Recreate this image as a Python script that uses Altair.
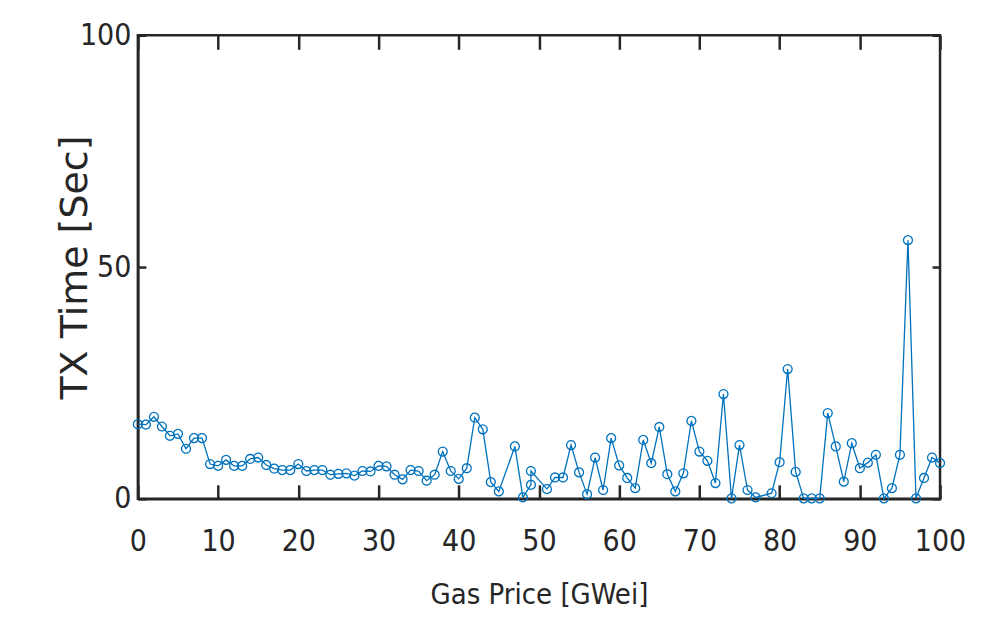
import altair as alt
import pandas as pd

gas_price = [0, 1, 2, 3, 4, 5, 6, 7, 8, 9, 10, 11, 12, 13, 14, 15, 16, 17, 18, 19,
             20, 21, 22, 23, 24, 25, 26, 27, 28, 29, 30, 31, 32, 33, 34, 35, 36, 37, 38, 39,
             40, 41, 42, 43, 44, 45, 47, 48, 49, 49, 51, 52, 53, 54, 55, 56, 57, 58, 59,
             60, 61, 62, 63, 64, 65, 66, 67, 68, 69, 70, 71, 72, 73, 74, 75, 76, 77, 79,
             80, 81, 82, 83, 84, 85, 86, 87, 88, 89, 90, 91, 92, 93, 94, 95, 96, 97, 98, 99, 100]
tx_time = [16.1, 16.0, 17.7, 15.6, 13.6, 14.0, 10.8, 13.1, 13.1, 7.5, 7.1, 8.4, 7.1, 7.1, 8.6, 8.9, 7.3, 6.5, 6.2, 6.2,
           7.5, 6.0, 6.2, 6.2, 5.2, 5.4, 5.5, 5.0, 6.0, 5.9, 7.1, 7.0, 5.2, 4.2, 6.2, 6.0, 3.9, 5.2, 10.2, 6.0,
           4.3, 6.6, 17.5, 15.0, 3.6, 1.6, 11.3, 0.3, 3.0, 6.0, 2.1, 4.6, 4.6, 11.6, 5.7, 1.0, 8.9, 1.9, 13.1,
           7.2, 4.5, 2.3, 12.7, 7.7, 15.5, 5.3, 1.6, 5.5, 16.8, 10.2, 8.2, 3.4, 22.6, 0.1, 11.6, 1.9, 0.3, 1.2,
           7.9, 28.0, 5.8, 0.1, 0.1, 0.1, 18.5, 11.3, 3.7, 12.0, 6.6, 7.8, 9.5, 0.1, 2.3, 9.5, 55.8, 0.1, 4.5, 8.9, 7.7]
x_ticks = [0, 10, 20, 30, 40, 50, 60, 70, 80, 90, 100]
y_ticks = [0, 50, 100]

df = pd.DataFrame({"gas": gas_price, "t": tx_time, "order": list(range(len(gas_price)))})

AX = "#262626"
BLUE = "#0072BD"
NARROW = "Liberation Sans Narrow, DejaVu Sans Condensed, Liberation Sans, sans-serif"

xs = alt.Scale(domain=[0, 100], nice=False, zero=False)
ys = alt.Scale(domain=[0, 100], nice=False, zero=False)

base = alt.Chart(df)

main_line = base.mark_line(color=BLUE, strokeWidth=1.3).encode(
    x=alt.X("gas:Q", scale=xs, axis=alt.Axis(
        orient="bottom", values=x_ticks, tickSize=0, grid=False,
        domain=True, domainColor=AX, domainWidth=2.5,
        labelFont=NARROW, labelFontSize=30, labelColor=AX, labelPadding=28,
        labelFlush=False, labelOverlap=False,
        title="Gas Price [GWei]", titleFont=NARROW, titleFontSize=29,
        titleFontWeight="normal", titleColor=AX, titleY=96, titleBaseline="middle")),
    y=alt.Y("t:Q", scale=ys, axis=alt.Axis(
        orient="left", values=y_ticks, tickSize=0, grid=False,
        domain=True, domainColor=AX, domainWidth=2.5,
        labelFont=NARROW, labelFontSize=30, labelColor=AX, labelPadding=7,
        labelFlush=False, labelOverlap=False,
        title="TX Time [Sec]", titleFont="DejaVu Sans", titleFontSize=38,
        titleFontWeight="normal", titleColor=AX, titleX=-62, titleY=232,
        titleAngle=270, titleBaseline="middle", titleAlign="center")),
    order="order:Q",
)

pts = base.mark_point(shape="circle", filled=False, color=BLUE, strokeWidth=1.3, size=80, opacity=1).encode(
    x=alt.X("gas:Q", scale=xs, axis=alt.Axis(
        orient="bottom", values=x_ticks, tickSize=14, offset=-14, tickColor=AX, tickWidth=2.5,
        labels=False, domain=False, grid=False, title=None)),
    y=alt.Y("t:Q", scale=ys, axis=alt.Axis(
        orient="left", values=y_ticks, tickSize=8, offset=-8, tickColor=AX, tickWidth=2.5,
        labels=False, domain=False, grid=False, title=None)),
)

ghost = base.mark_point(opacity=0).encode(
    x=alt.X("gas:Q", scale=xs, axis=alt.Axis(
        orient="top", values=x_ticks, tickSize=14, offset=-14, tickColor=AX, tickWidth=2.5,
        labels=False, domain=False, grid=False, title=None)),
    y=alt.Y("t:Q", scale=ys, axis=alt.Axis(
        orient="right", values=y_ticks, tickSize=8, offset=-8, tickColor=AX, tickWidth=2.5,
        labels=False, domain=False, grid=False, title=None)),
)

chart = alt.layer(main_line, pts, ghost).resolve_axis(
    x="independent", y="independent"
).resolve_scale(x="shared", y="shared").properties(
    width=803, height=464,
    autosize=alt.AutoSizeParams(type="none"),
    padding={"left": 130, "top": 27, "right": 40, "bottom": 118},
    background="white",
).configure_view(stroke=AX, strokeWidth=2.5)

chart.save("out.html", embed_options={"renderer": "svg", "actions": False})
